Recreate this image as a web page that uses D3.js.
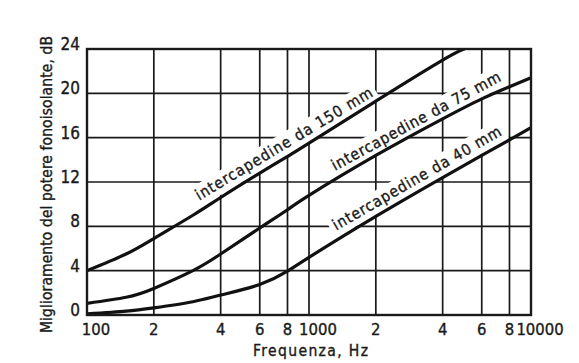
<!DOCTYPE html>
<html>
<head>
<meta charset="utf-8">
<script src="https://cdn.jsdelivr.net/npm/d3@7"></script>
<style>
  html, body { margin: 0; padding: 0; background: #ffffff; }
  svg { display: block; }
  text { font-family: "DejaVu Sans Condensed", "DejaVu Sans", sans-serif; font-stretch: condensed; fill: #1a1a1a; stroke: #1a1a1a; stroke-width: 0.35px; }
</style>
</head>
<body>
<svg id="chart" width="579" height="363"></svg>
<script>
// Frequency grid (Hz) and the labels printed under each grid line
const gridFreqs = [100, 200, 400, 600, 800, 1000, 2000, 4000, 6000, 8000, 10000];
const gridFreqLabels = ["100", "2", "4", "6", "8", "1000", "2", "4", "6", "8", "10000"];
const dbTicks = [0, 4, 8, 12, 16, 20, 24];

// Improvement of sound insulation (dB) versus frequency, one series per cavity depth
const freq150 = [100, 150, 200, 300, 400, 600, 800, 1000, 2000, 4000, 5000];
const db150   = [4.0, 5.5, 6.9, 9.0, 10.6, 12.8, 14.3, 15.5, 19.3, 23.0, 24.0];

const freq75  = [100, 150, 200, 300, 400, 600, 800, 1000, 2000, 4000, 6000, 8000, 10000];
const db75    = [1.05, 1.6, 2.4, 4.0, 5.5, 7.85, 9.5, 10.8, 14.4, 17.7, 19.5, 20.6, 21.4];

const freq40  = [100, 150, 200, 300, 400, 600, 800, 1000, 2000, 4000, 6000, 8000, 10000];
const db40    = [0.1, 0.35, 0.65, 1.2, 1.8, 2.75, 3.95, 5.2, 8.9, 12.4, 14.4, 15.8, 16.9];

// Curve captions: text, start point of the baseline (Hz, dB), slant in degrees, run length in px
const captionTexts   = ["intercapedine da 150 mm", "intercapedine da 75 mm", "intercapedine da 40 mm"];
const captionFreqs   = [320, 1310, 1326];
const captionDb      = [10.3, 13.0, 7.6];
const captionAngles  = [31, 28.5, 30];
const captionLengths = [204, 190, 192];

const yTitle = "Miglioramento del potere fonoisolante, dB";
const xTitle = "Frequenza, Hz";

(function draw() {
  const svg = d3.select("#chart");
  const mLeft = 87, mRight = 531, mTop = 49, mBottom = 315;

  const x = d3.scaleLog().domain([100, 10000]).range([mLeft, mRight]);
  const y = d3.scaleLinear().domain([0, 24]).range([mBottom, mTop]);

  const ink = "#1a1a1a";

  // grid
  const grid = svg.append("g");
  grid.selectAll("line.v").data(gridFreqs).join("line").attr("class", "v")
    .attr("x1", d => x(d)).attr("x2", d => x(d))
    .attr("y1", mTop).attr("y2", mBottom)
    .attr("stroke", ink).attr("stroke-width", 1.7);
  grid.selectAll("line.h").data(dbTicks).join("line").attr("class", "h")
    .attr("x1", mLeft).attr("x2", mRight)
    .attr("y1", d => y(d)).attr("y2", d => y(d))
    .attr("stroke", ink).attr("stroke-width", 1.7);

  // caption knock-out boxes (white bands that interrupt the grid)
  const fs = 15.5;
  const captions = captionTexts.map((t, i) => ({
    text: t, f: captionFreqs[i], v: captionDb[i], a: captionAngles[i], len: captionLengths[i]
  }));
  const capG = svg.append("g").selectAll("g").data(captions).join("g")
    .attr("transform", d => `translate(${x(d.f)},${y(d.v)}) rotate(${-d.a})`);
  capG.append("rect").attr("fill", "#ffffff")
    .attr("x", -4).attr("y", -fs * 0.8 - 3)
    .attr("width", d => d.len + 8).attr("height", fs * 0.8 + 9);

  // curves
  const series = [
    { f: freq150, v: db150 },
    { f: freq75,  v: db75 },
    { f: freq40,  v: db40 }
  ];
  const line = d3.line()
    .x(d => x(d[0])).y(d => y(d[1]))
    .curve(d3.curveNatural);
  svg.append("clipPath").attr("id", "plot")
    .append("rect").attr("x", mLeft).attr("y", mTop).attr("width", mRight - mLeft).attr("height", mBottom - mTop);
  svg.append("g").attr("clip-path", "url(#plot)")
    .selectAll("path").data(series).join("path")
    .attr("d", s => line(s.f.map((f, i) => [f, s.v[i]])))
    .attr("fill", "none").attr("stroke", "#111").attr("stroke-width", 3.2)
    .attr("stroke-linecap", "round");

  // caption texts
  capG.append("text")
    .attr("x", 0).attr("y", 0)
    .attr("font-size", fs)
    .attr("textLength", d => d.len)
    .attr("lengthAdjust", "spacing")
    .text(d => d.text);

  // frame
  svg.append("rect")
    .attr("x", mLeft).attr("y", mTop).attr("width", mRight - mLeft).attr("height", mBottom - mTop)
    .attr("fill", "none").attr("stroke", ink).attr("stroke-width", 2.4);

  // y tick labels
  svg.append("g").selectAll("text").data(dbTicks).join("text")
    .attr("x", mLeft - 7).attr("y", d => y(d) - 4)
    .attr("text-anchor", "end").attr("dominant-baseline", "middle")
    .attr("font-size", 17)
    .text(d => d);

  // x tick labels (decade labels sit just right of their line)
  svg.append("g").selectAll("text").data(gridFreqs).join("text")
    .attr("x", (d, i) => x(d) + (gridFreqLabels[i].length > 1 ? 9 : 0))
    .attr("y", 335)
    .attr("text-anchor", "middle")
    .attr("font-size", 16.5)
    .text((d, i) => gridFreqLabels[i]);

  // axis titles
  svg.append("text")
    .attr("transform", `translate(52, 333) rotate(-90)`)
    .attr("font-size", 15.5)
    .attr("textLength", 297)
    .attr("lengthAdjust", "spacing")
    .text(yTitle);
  svg.append("text")
    .attr("x", 253).attr("y", 356)
    .attr("font-size", 15.5)
    .attr("textLength", 115)
    .attr("lengthAdjust", "spacing")
    .text(xTitle);
})();
</script>
</body>
</html>
